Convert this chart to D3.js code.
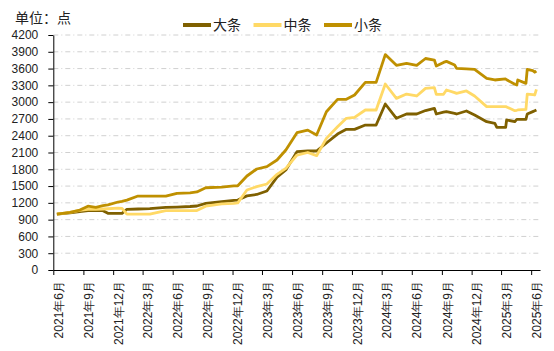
<!DOCTYPE html>
<html lang="zh">
<head>
<meta charset="UTF-8">
<title>大条 中条 小条</title>
<script src="https://d3js.org/d3.v7.min.js"></script>
<style>
  body { margin: 0; background: #fff; }
  svg { display: block; font-family: "Liberation Sans", "Noto Sans CJK SC", sans-serif; }
</style>
</head>
<body>
<svg width="554" height="351"></svg>
<script>

    // values
    const dates = ["2021-06-12","2021-07-22","2021-08-21","2021-09-15","2021-10-09","2021-10-31","2021-11-15","2021-12-16","2021-12-28",
        "2022-01-12","2022-02-15","2022-03-23","2022-05-11","2022-06-14","2022-07-24","2022-08-14","2022-09-10","2022-10-29","2022-12-05","2022-12-17",
        "2023-01-14","2023-02-13","2023-03-16","2023-04-16","2023-05-13","2023-06-16","2023-07-19","2023-08-15","2023-09-14","2023-10-18","2023-11-14","2023-12-09",
        "2024-01-11","2024-02-13","2024-03-12","2024-04-15","2024-05-16","2024-06-16","2024-07-13","2024-08-09","2024-08-15","2024-09-06","2024-09-15","2024-10-10","2024-10-16","2024-11-15","2024-12-10",
        "2025-01-16","2025-02-10","2025-02-16","2025-03-15","2025-03-18","2025-04-12","2025-04-18","2025-04-21","2025-05-16","2025-05-20","2025-06-06","2025-06-12","2025-06-17"];

    const daTiao = [1000,1020,1045,1060,1060,1060,1013,1013,1013,
        1085,1090,1096,1120,1125,1135,1144,1192,1220,1245,1250,
        1325,1350,1412,1660,1787,2114,2127,2127,2270,2430,2514,2514,
        2591,2591,2967,2711,2788,2788,2850,2890,2788,2820,2830,2800,2788,2842,2770,
        2651,2621,2550,2550,2681,2651,2693,2693,2693,2788,2830,2845,2860];

    const zhongTiao = [1000,1030,1065,1085,1085,1090,1095,1105,1100,
        1000,1000,1000,1060,1060,1060,1062,1140,1180,1192,1200,
        1430,1490,1537,1710,1817,2055,2100,2043,2353,2561,2711,2729,
        2860,2860,3324,3068,3145,3110,3247,3259,3140,3140,3217,3170,3157,3200,3110,
        2920,2920,2920,2920,2915,2848,2855,2860,2872,3145,3135,3128,3229];

    const xiaoTiao = [1000,1030,1072,1140,1120,1150,1165,1215,1225,
        1250,1322,1322,1322,1371,1380,1395,1470,1480,1505,1505,
        1680,1805,1847,1966,2145,2454,2500,2412,2829,3050,3050,3128,
        3354,3354,3850,3658,3694,3658,3780,3753,3646,3710,3729,3664,3604,3595,3587,
        3426,3396,3400,3414,3400,3320,3307,3396,3336,3587,3562,3535,3555];

    const seriesNames = ["大条", "中条", "小条"];
    const seriesColors = ["#7f6000", "#ffd966", "#bf9000"];
    const yTicks = d3.range(0, 4201, 300);

    const parse = d3.timeParse("%Y-%m-%d");
    const series = [daTiao, zhongTiao, xiaoTiao].map((vals, i) => ({
        name: seriesNames[i],
        color: seriesColors[i],
        points: vals.map((v, j) => ({ date: parse(dates[j]), value: v }))
    }));

    const svg = d3.select("svg");
    const plotL = 53.3, plotR = 540, plotT = 35, plotB = 270;

    const x = d3.scaleTime()
        .domain([new Date(2021, 5, 1), new Date(2025, 5, 28)])
        .range([plotL, plotR]);
    const y = d3.scaleLinear().domain([0, 4200]).range([plotB, plotT]);

    // grid
    svg.append("g")
        .selectAll("line")
        .data(yTicks.filter(d => d > 0))
        .join("line")
        .attr("x1", plotL).attr("x2", plotR)
        .attr("y1", d => y(d)).attr("y2", d => y(d))
        .attr("stroke", "#d0d0d0")
        .attr("stroke-dasharray", "5,3,1,3");

    // y axis
    const yAxis = svg.append("g")
        .attr("transform", `translate(${plotL},0)`)
        .call(d3.axisLeft(y).tickValues(yTicks).tickFormat(d3.format("d")).tickSize(5).tickPadding(10).tickSizeOuter(0));
    yAxis.select(".domain").attr("stroke", "#000");
    yAxis.selectAll(".tick line").attr("stroke", "#000");
    yAxis.selectAll("text").attr("font-size", 12).attr("fill", "#222");

    // x axis
    const xTicks = d3.timeMonth.range(new Date(2021, 5, 1), new Date(2025, 5, 2), 3);
    const xAxis = svg.append("g")
        .attr("transform", `translate(0,${plotB})`)
        .call(d3.axisBottom(x).tickValues(xTicks).tickFormat(d3.timeFormat("%Y年%-m月")).tickSize(5).tickSizeOuter(0));
    xAxis.select(".domain").attr("stroke", "#000");
    xAxis.selectAll(".tick line").attr("stroke", "#000");
    xAxis.selectAll("text")
        .attr("font-size", 12)
        .attr("fill", "#222")
        .attr("text-anchor", "end")
        .attr("transform", "rotate(-90)")
        .attr("x", -11)
        .attr("y", 5)
        .attr("dy", "0.35em");

    // lines
    const line = d3.line().x(d => x(d.date)).y(d => y(d.value));
    svg.append("g")
        .selectAll("path")
        .data(series)
        .join("path")
        .attr("d", d => line(d.points))
        .attr("fill", "none")
        .attr("stroke", d => d.color)
        .attr("stroke-width", 2.8)
        .attr("stroke-linejoin", "round");

    // unit label
    svg.append("text")
        .attr("x", 15).attr("y", 22.5)
        .attr("font-size", 14)
        .attr("fill", "#222")
        .text("单位：点");

    // legend
    const legend = svg.append("g")
        .selectAll("g")
        .data(series)
        .join("g")
        .attr("transform", (d, i) => `translate(${183 + i * 70.5},25)`);
    legend.append("line")
        .attr("x1", 0).attr("x2", 28)
        .attr("stroke", d => d.color)
        .attr("stroke-width", 4);
    legend.append("text")
        .attr("x", 30).attr("y", 5)
        .attr("font-size", 14)
        .attr("fill", "#222")
        .text(d => d.name);

</script>
</body>
</html>
